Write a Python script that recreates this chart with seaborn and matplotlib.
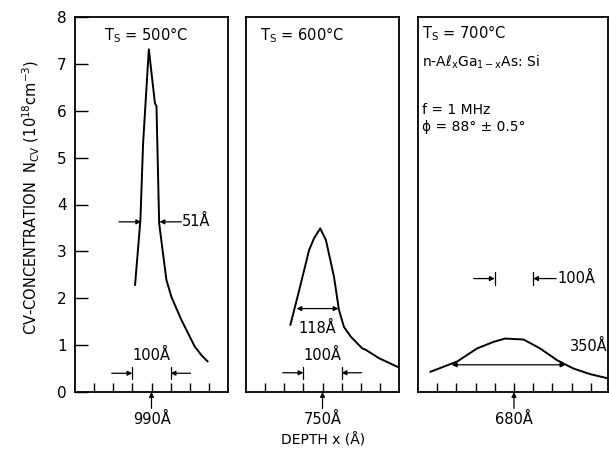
import numpy as np
import pandas as pd
import seaborn as sns
import matplotlib.pyplot as plt

# depth (Angstrom) and CV concentration (1e18 cm^-3)
depth_500 = [947, 961, 968, 983, 999, 1003, 1010, 1020, 1029, 1042, 1068, 1103, 1120, 1137]
conc_500 = [2.28, 3.67, 5.30, 7.31, 6.16, 6.10, 3.60, 2.96, 2.39, 2.03, 1.54, 0.97, 0.79, 0.65]

depth_600 = [666, 689, 715, 728, 744, 759, 780, 793, 806, 824, 854, 863, 898, 948]
conc_600 = [1.43, 2.17, 3.03, 3.28, 3.49, 3.24, 2.46, 1.75, 1.39, 1.18, 0.93, 0.90, 0.72, 0.53]

depth_700 = [462, 532, 584, 627, 657, 705, 748, 792, 835, 879, 925]
conc_700 = [0.43, 0.65, 0.93, 1.07, 1.14, 1.12, 0.93, 0.68, 0.50, 0.38, 0.29]

centers = [990, 750, 680]
xlims = [(790, 1190), (550, 950), (430, 925)]
temps = ["500", "600", "700"]
yticks = [0, 1, 2, 3, 4, 5, 6, 7, 8]

sns.set_style("white")
plt.rcParams["font.family"] = ["DejaVu Sans"]
plt.rcParams["mathtext.fontset"] = "dejavusans"
plt.rcParams["axes.linewidth"] = 1.3
for key in ["text.color", "axes.labelcolor", "xtick.color", "ytick.color", "axes.edgecolor"]:
    plt.rcParams[key] = "black"

fig = plt.figure(figsize=(6.09, 4.49), dpi=100)
W, H = 609, 449
boxes = [(75, 153), (246, 153), (418, 190)]
axes = [fig.add_axes([l / W, (H - 392) / H, w / W, 375 / H]) for l, w in boxes]

frames = [
    pd.DataFrame({"depth": depth_500, "conc": conc_500}),
    pd.DataFrame({"depth": depth_600, "conc": conc_600}),
    pd.DataFrame({"depth": depth_700, "conc": conc_700}),
]

arrow = dict(arrowstyle="-|>", color="black", lw=0.9, mutation_scale=7, shrinkA=0, shrinkB=0)
dbl = dict(arrowstyle="<|-|>", color="black", lw=0.9, mutation_scale=7, shrinkA=0, shrinkB=0)

for i, (ax, df) in enumerate(zip(axes, frames)):
    sns.lineplot(data=df, x="depth", y="conc", ax=ax, color="black", lw=1.4,
                 sort=False, estimator=None)
    c = centers[i]
    ax.set_xlim(*xlims[i])
    ax.set_ylim(0, 8)
    half = 4 if i == 2 else 3
    ax.set_xticks([c + 50 * k for k in range(-half, half + 1)])
    ax.set_xticklabels([])
    ax.tick_params(axis="x", direction="in", length=6.5, width=1, bottom=True)
    if i == 0:
        ax.set_yticks(yticks)
        ax.tick_params(axis="y", direction="in", length=9, width=1, left=True,
                       labelsize=11, pad=6)
    else:
        ax.set_yticks([])
    ax.set_xlabel("")
    ax.set_ylabel("")
    # center depth marker and label
    ax.annotate("", xy=(c, 0), xytext=(c, -0.35), arrowprops=arrow, annotation_clip=False)
    ax.text(c, -0.58, f"{c}Å", ha="center", va="center", fontsize=10.5, clip_on=False)

# 100 A scale markers
for ax, c, y in [(axes[0], 990, 0.40), (axes[1], 750, 0.41)]:
    ax.annotate("", xy=(c - 50, y), xytext=(c - 104, y), arrowprops=arrow)
    ax.annotate("", xy=(c + 50, y), xytext=(c + 102, y), arrowprops=arrow)
    ax.plot([c - 50, c - 50], [y - 0.13, y + 0.13], color="black", lw=0.9)
    ax.plot([c + 50, c + 50], [y - 0.13, y + 0.13], color="black", lw=0.9)
    ax.text(c, 0.78, "100Å", ha="center", va="center", fontsize=10.5)

ax = axes[2]
ax.annotate("", xy=(630, 2.42), xytext=(575, 2.42), arrowprops=arrow)
ax.annotate("", xy=(730, 2.42), xytext=(790, 2.42), arrowprops=arrow)
ax.plot([630, 630], [2.29, 2.55], color="black", lw=0.9)
ax.plot([730, 730], [2.29, 2.55], color="black", lw=0.9)
ax.text(793, 2.42, "100Å", ha="left", va="center", fontsize=10.5)

# FWHM markers
axes[0].annotate("", xy=(963, 3.63), xytext=(905, 3.63), arrowprops=arrow)
axes[0].annotate("", xy=(1011, 3.63), xytext=(1068, 3.63), arrowprops=arrow)
axes[0].text(1070, 3.63, "51Å", ha="left", va="center", fontsize=10.5)

axes[1].annotate("", xy=(682, 1.78), xytext=(792, 1.78), arrowprops=dbl)
axes[1].text(736, 1.36, "118Å", ha="center", va="center", fontsize=10.5)

axes[2].annotate("", xy=(518, 0.58), xytext=(814, 0.58), arrowprops=dbl)
axes[2].text(925, 0.97, "350Å", ha="right", va="center", fontsize=10.5)

# growth temperature labels
axes[0].text(977, 7.62, "T$_\\mathrm{S}$ = 500°C", ha="center", va="center", fontsize=10.5)
axes[1].text(586, 7.62, "T$_\\mathrm{S}$ = 600°C", ha="left", va="center", fontsize=10.5)
axes[2].text(440, 7.65, "T$_\\mathrm{S}$ = 700°C", ha="left", va="center", fontsize=10.5)
axes[2].text(440, 7.04, "n-Aℓ$_\\mathrm{x}$Ga$_\\mathrm{1-x}$As: Si", ha="left", va="center", fontsize=10)
axes[2].text(440, 6.01, "f = 1 MHz", ha="left", va="center", fontsize=10)
axes[2].text(440, 5.66, "ϕ = 88° ± 0.5°", ha="left", va="center", fontsize=10)

fig.text(31 / W, 1 - 197 / H, "CV-CONCENTRATION  N$_\\mathrm{CV}$ (10$^{18}$cm$^{-3}$)",
         rotation=90, ha="center", va="center", fontsize=10.5)
fig.text(323 / W, 1 - 440 / H, "DEPTH x (Å)", ha="center", va="center", fontsize=10)

fig.savefig("out.png", dpi=100)
